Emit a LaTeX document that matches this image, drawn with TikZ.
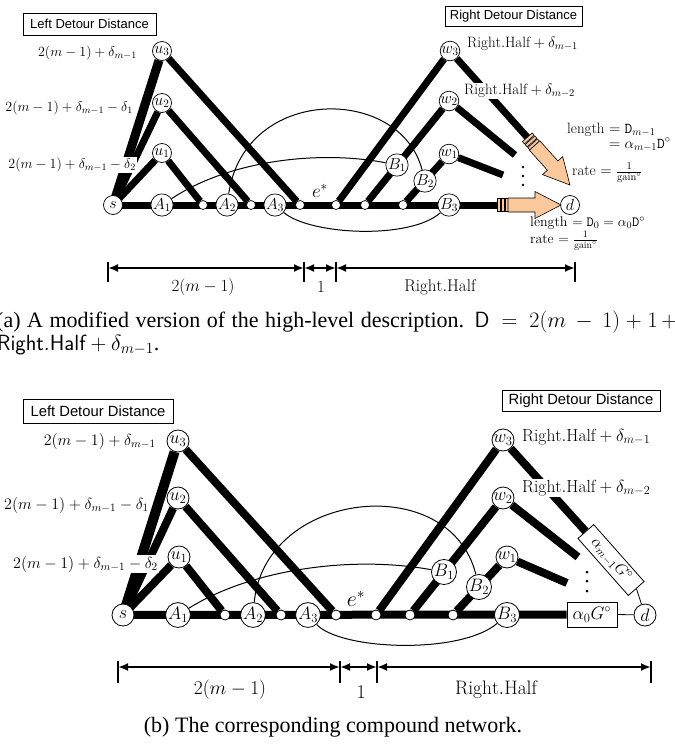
\RequirePackage{fix-cm}
\documentclass[tikz,border=0pt]{standalone}
\usepackage{amsmath}
\usepackage{fontspec}
\newfontfamily\capfont{Liberation Serif}
\newfontfamily\boxfont{Liberation Sans}
\usetikzlibrary{arrows.meta,backgrounds}
\definecolor{peach}{RGB}{250,200,155}
\newcommand\fsz[1]{\fontsize{#1}{#1}\selectfont}
\tikzset{pics/oarrow/.style={code={
  \foreach \a in {0,4,8} \draw[fill=peach,draw=black,line width=0.6pt] (\a,-6.5) rectangle ++(3,13);
  \draw[fill=peach,line width=0.6pt] (11,-7) -- (38,-7) -- (38,-13.5) -- (64,0) -- (38,13.5) -- (38,7) -- (11,7) -- cycle;
}}}
\begin{document}
\begin{tikzpicture}[x=1pt,y=-1pt,
  lettA/.style={circle,draw,fill=white,inner sep=0pt,minimum size=19pt,line width=0.7pt,font=\fsz{16}},
  dotA/.style={circle,draw,fill=white,inner sep=0pt,minimum size=9pt,line width=0.7pt},
  lettB/.style={circle,draw,fill=white,inner sep=0pt,minimum size=22pt,line width=0.8pt,font=\fsz{18}},
  dotB/.style={circle,draw,fill=white,inner sep=0pt,minimum size=10pt,line width=0.8pt},
  thickA/.style={line width=7pt},
  thickB/.style={line width=8pt},
  thinarc/.style={line width=1pt},
  lblA/.style={inner sep=1pt,font=\fsz{14}},
  lblAr/.style={inner sep=1pt,font=\fsz{15}},
  lblB/.style={inner sep=1pt,font=\fsz{16}},
  lblBr/.style={inner sep=1pt,font=\fsz{17.5}},
  titlebox/.style={draw,line width=0.8pt,inner sep=0pt},
  dimline/.style={line width=2pt,{Latex[length=10pt,width=8pt]}-{Latex[length=10pt,width=8pt]}},
  dimtick/.style={line width=2.6pt},
  gbox/.style={draw,fill=white,line width=0.8pt,inner sep=1pt,font=\fsz{18}},
]
\useasboundingbox (0,0) rectangle (675,745);

% ================= (a) =================
\node[titlebox,minimum width=133pt,minimum height=22pt,font=\boxfont\fsz{13}] (ldA) at (89.5,24) {Left Detour Distance};
\node[titlebox,minimum width=137pt,minimum height=20pt,font=\boxfont\fsz{13}] (rdA) at (513.5,16.5) {Right Detour Distance};

\node[lettA] (s) at (113,205) {$s$};
\node[lettA] (A1) at (162,205) {$A_1$};
\node[dotA] (c1) at (203,205) {};
\node[lettA] (A2) at (227,205) {$A_2$};
\node[dotA] (c2) at (251,205) {};
\node[lettA] (A3) at (275,205) {$A_3$};
\node[dotA] (c3) at (300,205) {};
\node[dotA] (c4) at (336,205) {};
\node[dotA] (c5) at (365,205) {};
\node[dotA] (c6) at (403,205) {};
\node[lettA] (B3) at (449,205) {$B_3$};
\node[lettA] (d) at (570,205) {$d$};
\node[lettA] (u1) at (162,153) {$u_1$};
\node[lettA] (u2) at (162,103) {$u_2$};
\node[lettA] (u3) at (162,51) {$u_3$};
\node[lettA] (w1) at (449,154) {$w_1$};
\node[lettA] (w2) at (449,101) {$w_2$};
\node[lettA] (w3) at (450,51) {$w_3$};
\node[lettA] (B1) at (397,165) {$B_1$};
\node[lettA] (B2) at (425,181) {$B_2$};
\node[font=\fsz{19}] (es) at (320,191) {$e^*$};
\coordinate (dS) at (527.3,137.3);
\coordinate (hS) at (497,205);
\coordinate (e2) at (515,155);
\coordinate (e1) at (503,175);

\begin{scope}[on background layer]
  \draw[thickA] (s.center) -- (hS);
  \draw[line width=9pt] (s.center) -- (u3);
  \draw[thickA] (s.center) -- (u2);
  \draw[thickA] (s.center) -- (u1);
  \draw[thickA] (u1) -- (c1);
  \draw[thickA] (u2) -- (c2);
  \draw[thickA] (u3) -- (c3);
  \draw[thickA] (c4) -- (w3);
  \draw[thickA] (c5) -- (w2);
  \draw[thickA] (c6) -- (w1);
  \draw[thickA] (w3) -- (dS);
  \draw[thickA] (w2) -- (e2);
  \draw[thickA] (w1) -- (e1);
  \draw[thinarc] (A2) .. controls (245,85) and (400,85) .. (B2);
  \draw[thinarc] (A1) .. controls (230,160) and (320,150) .. (B1);
  \draw[thinarc] (A3) .. controls (310,235) and (410,240) .. (B3);
\end{scope}

\pic[rotate=-48.2] at (dS) {oarrow};
\pic at (hS) {oarrow};
\foreach \yy in {167,176,185} \fill (523,\yy) circle (1.4);

\node[lblA,anchor=east,fill=white] (la3) at (138,53) {$2(m-1)+\delta_{m-1}$};
\node[lblA,anchor=east] (la2) at (134,108) {$2(m-1)+\delta_{m-1}-\delta_1$};
\node[lblA,anchor=east,fill=white] (la1) at (137,165) {$2(m-1)+\delta_{m-1}-\delta_2$};
\node[lblAr,anchor=west,fill=white] (ra3) at (466,44) {$\mathrm{Right.Half}+\delta_{m-1}$};
\node[lblAr,anchor=west,fill=white] (ra2) at (463,91) {$\mathrm{Right.Half}+\delta_{m-2}$};
\node[lblAr,anchor=base west] (len1) at (566,133) {length $=\mathtt{D}_{m-1}$};
\node[lblAr,anchor=base west] (len1b) at (566,148) {\phantom{length }$=\alpha_{m-1}\mathtt{D}^\circ$};
\node[lblAr,anchor=west] (rate1) at (571,173) {rate $=\frac{1}{\mathrm{gain}^\circ}$};
\node[lblA,anchor=west] (len0) at (529,223) {length $=\mathtt{D}_0=\alpha_0\mathtt{D}^\circ$};
\node[lblA,anchor=west] (rate0) at (529,241) {rate $=\frac{1}{\mathrm{gain}^\circ}$};

% dimension (a)
\coordinate (da0) at (108,268);
\coordinate (da1) at (304,268);
\coordinate (da2) at (336,268);
\coordinate (da3) at (575,268);
\draw[dimline] (da0) -- (da1);
\draw[dimline] (da1) -- (da2);
\draw[dimline] (da2) -- (da3);
\foreach \xx in {108,304,336,575} \draw[dimtick] (\xx,262) -- (\xx,282);
\node[font=\fsz{17}] (dla1) at (203,287) {$2(m-1)$};
\node[font=\fsz{17}] (dla2) at (321,287) {$1$};
\node[font=\fsz{17}] (dla3) at (440,287) {$\mathrm{Right.Half}$};

% caption (a)
\node[anchor=base west,inner sep=0pt,font=\capfont\fsz{22}] (capa1) at (-4,327)
  {\hbox to 681pt{(a) A modified version of the high-level description. $\mathsf{D}\,=\,2(m\,-\,1)+1\,+$}};
\node[anchor=base west,inner sep=0pt,font=\capfont\fsz{22}] (capa2) at (-3,350)
  {$\mathsf{Right.Half}+\delta_{m-1}$.};

% ================= (b) =================
\node[titlebox,minimum width=150pt,minimum height=24pt,font=\boxfont\fsz{14.8}] (ldB) at (98,411) {Left Detour Distance};
\node[titlebox,minimum width=158pt,minimum height=21pt,font=\boxfont\fsz{14.8}] (rdB) at (581,401) {Right Detour Distance};

\node[lettB] (sb) at (123,615) {$s$};
\node[lettB] (A1b) at (178,615) {$A_1$};
\node[dotB] (c1b) at (225,615) {};
\node[lettB] (A2b) at (253,615) {$A_2$};
\node[dotB] (c2b) at (281,615) {};
\node[lettB] (A3b) at (308,615) {$A_3$};
\node[dotB] (c3b) at (336,615) {};
\node[dotB] (c4b) at (376,615) {};
\node[dotB] (c5b) at (410,615) {};
\node[dotB] (c6b) at (453,615) {};
\node[lettB] (B3b) at (507,615) {$B_3$};
\node[lettB] (db) at (645,615) {$d$};
\node[lettB] (u1b) at (179,557) {$u_1$};
\node[lettB] (u2b) at (178,498) {$u_2$};
\node[lettB] (u3b) at (178,441) {$u_3$};
\node[lettB] (w1b) at (507,557) {$w_1$};
\node[lettB] (w2b) at (503,498) {$w_2$};
\node[lettB] (w3b) at (503,440) {$w_3$};
\node[lettB] (B1b) at (444,572) {$B_1$};
\node[lettB] (B2b) at (479,587) {$B_2$};
\node[font=\fsz{22}] (esb) at (356,599) {$e^*$};
\node[gbox,minimum width=50pt,minimum height=25pt] (g0) at (592,614.5) {$\alpha_0G^\circ$};
\node[gbox,rotate=-48.5,minimum width=76pt,minimum height=21pt,font=\fsz{16}] (gm) at (611,560) {$\alpha_{m-1}G^\circ$};
\coordinate (e2b) at (578,557);
\coordinate (e1b) at (567,583);

\begin{scope}[on background layer]
  \draw[thickB] (sb.center) -- (g0.west);
  \draw[line width=10pt] (sb.center) -- (u3b);
  \draw[thickB] (sb.center) -- (u2b);
  \draw[thickB] (sb.center) -- (u1b);
  \draw[thickB] (u1b) -- (c1b);
  \draw[thickB] (u2b) -- (c2b);
  \draw[thickB] (u3b) -- (c3b);
  \draw[thickB] (c4b) -- (w3b);
  \draw[thickB] (c5b) -- (w2b);
  \draw[thickB] (c6b) -- (w1b);
  \draw[thickB] (w3b) -- (gm.west);
  \draw[thickB] (w2b) -- (e2b);
  \draw[thickB] (w1b) -- (e1b);
  \draw[line width=0.8pt] (g0.east) -- (db);
  \draw[line width=0.8pt] (gm.east) -- (db);
  \draw[thinarc] (A2b) .. controls (265,490) and (450,470) .. (B2b);
  \draw[thinarc] (A1b) .. controls (250,570) and (350,555) .. (B1b);
  \draw[thinarc] (A3b) .. controls (340,650) and (460,655) .. (B3b);
\end{scope}
\foreach \yy in {572,581,591} \fill (587,\yy) circle (1.5);

\node[lblB,anchor=east,fill=white] (lb3) at (157,441) {$2(m-1)+\delta_{m-1}$};
\node[lblB,anchor=east] (lb2) at (150,505) {$2(m-1)+\delta_{m-1}-\delta_1$};
\node[lblB,anchor=east,fill=white] (lb1) at (159,564) {$2(m-1)+\delta_{m-1}-\delta_2$};
\node[lblBr,anchor=west,fill=white] (rb3) at (521,437) {$\mathrm{Right.Half}+\delta_{m-1}$};
\node[lblBr,anchor=west,fill=white] (rb2) at (521,488) {$\mathrm{Right.Half}+\delta_{m-2}$};

% dimension (b)
\coordinate (db0) at (118,667);
\coordinate (db1) at (340,667);
\coordinate (db2) at (377,667);
\coordinate (db3) at (651,667);
\draw[dimline] (db0) -- (db1);
\draw[dimline] (db1) -- (db2);
\draw[dimline] (db2) -- (db3);
\foreach \xx in {118,340,377,651} \draw[dimtick] (\xx,661) -- (\xx,683);
\node[font=\fsz{19.5}] (dlb1) at (230,690) {$2(m-1)$};
\node[font=\fsz{19.5}] (dlb2) at (361,692) {$1$};
\node[font=\fsz{19.5}] (dlb3) at (496,690) {$\mathrm{Right.Half}$};

\node[font=\capfont\fsz{22}] (capb) at (333,727) {(b) The corresponding compound network.};
\end{tikzpicture}
\end{document}
